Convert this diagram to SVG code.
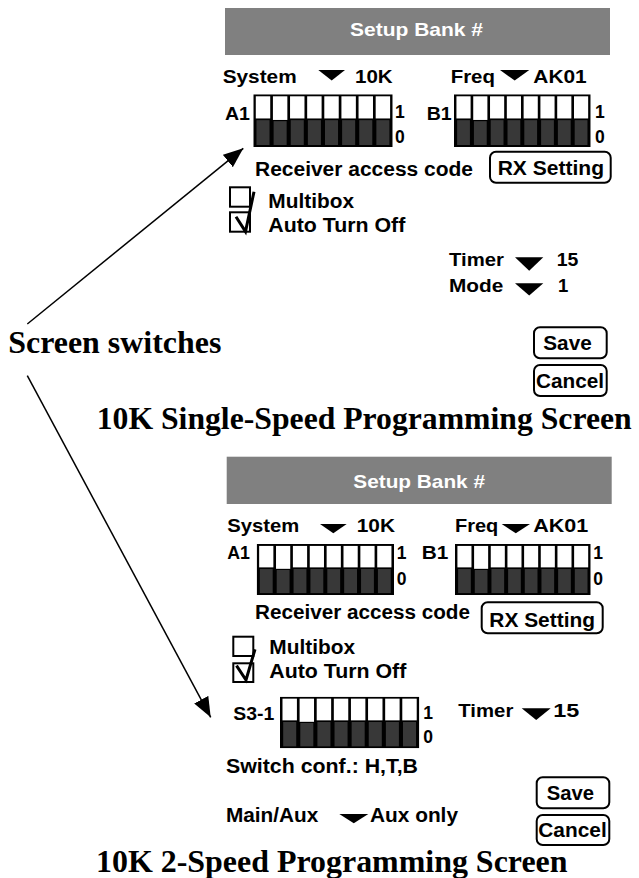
<svg xmlns="http://www.w3.org/2000/svg" xmlns:xlink="http://www.w3.org/1999/xlink" width="639" height="878" viewBox="0 0 639 878">
<style>
.s{font-family:"Liberation Sans",Arial,sans-serif;font-weight:bold;fill:#000}
.w{fill:#fff}
.t{font-family:"Liberation Serif","Times New Roman",serif;font-weight:bold;font-size:31px;fill:#000}
.hdr{fill:#808080}
.btn{fill:#fff;stroke:#000;stroke-width:2}
.cb{fill:#fff;stroke:#000;stroke-width:2}
.chk{fill:none;stroke:#000;stroke-width:3;stroke-linejoin:miter}
.tri{fill:#000}
.conn{fill:none;stroke:#000;stroke-width:1.5;marker-end:url(#ah)}
.f17{font-size:17.5px}.f18{font-size:18.5px}.f19{font-size:19.5px}.f20{font-size:20px}
</style>
<defs>
<marker id="ah" markerUnits="userSpaceOnUse" markerWidth="22" markerHeight="18" refX="20" refY="8" orient="auto"><path d="M0,0 L20,8 L0,16 z" fill="#000"/></marker>
<symbol id="dip" viewBox="0 0 140 53" preserveAspectRatio="none">
<rect x="0" y="0" width="140" height="53" fill="#000"/>
<g fill="#fff">
<rect x="2.5" y="2" width="14.5" height="22.3"/>
<rect x="19.7" y="2" width="14.5" height="23.8"/>
<rect x="36.9" y="2" width="14.5" height="22.3"/>
<rect x="54.1" y="2" width="14.5" height="22.3"/>
<rect x="71.3" y="2" width="14.5" height="22.3"/>
<rect x="88.5" y="2" width="14.5" height="22.3"/>
<rect x="105.7" y="2" width="14.5" height="22.3"/>
<rect x="122.9" y="2" width="14.5" height="22.3"/>
</g>
<g fill="#383838">
<rect x="3.2" y="26" width="13.1" height="25"/>
<rect x="20.4" y="27" width="13.1" height="24"/>
<rect x="37.6" y="26" width="13.1" height="25"/>
<rect x="54.8" y="26" width="13.1" height="25"/>
<rect x="72" y="26" width="13.1" height="25"/>
<rect x="89.2" y="26" width="13.1" height="25"/>
<rect x="106.4" y="26" width="13.1" height="25"/>
<rect x="123.6" y="26" width="13.1" height="25"/>
</g>
</symbol>
</defs>
<rect width="639" height="878" fill="#fff"/>

<g id="screen1">
<g id="s1-header"><rect class="hdr" x="225" y="8" width="385" height="47"/><text class="s w f18" x="350" y="36" textLength="133" lengthAdjust="spacingAndGlyphs">Setup Bank #</text></g>
<g id="s1-system"><text class="s f17" x="222.7" y="83" textLength="74" lengthAdjust="spacingAndGlyphs">System</text><polygon class="tri" points="318.3,70 345,70 331.7,80.5"/><text class="s f17" x="355" y="83" textLength="37.7" lengthAdjust="spacingAndGlyphs">10K</text></g>
<g id="s1-freq"><text class="s f17" x="450.7" y="83" textLength="44.3" lengthAdjust="spacingAndGlyphs">Freq</text><polygon class="tri" points="500,70 529.3,70 514.7,80.5"/><text class="s f17" x="533.3" y="83" textLength="53.4" lengthAdjust="spacingAndGlyphs">AK01</text></g>
<g id="s1-a1"><text class="s f17" x="225" y="119.5" textLength="25" lengthAdjust="spacingAndGlyphs">A1</text><use xlink:href="#dip" href="#dip" x="253.3" y="94.3" width="139.4" height="52.7"/><text class="s f17" x="395" y="118">1</text><text class="s f17" x="395" y="142.7">0</text></g>
<g id="s1-b1"><text class="s f17" x="426.7" y="119.5" textLength="25" lengthAdjust="spacingAndGlyphs">B1</text><use xlink:href="#dip" href="#dip" x="454" y="94.3" width="136.7" height="52.7"/><text class="s f17" x="595" y="118">1</text><text class="s f17" x="595" y="142.7">0</text></g>
<g id="s1-receiver"><text class="s f20" x="255" y="176" textLength="218" lengthAdjust="spacingAndGlyphs">Receiver access code</text></g>
<g id="s1-rx"><rect class="btn" x="490" y="151.7" width="120.7" height="31" rx="6"/><text class="s f19" x="497.7" y="175.3" textLength="106.3" lengthAdjust="spacingAndGlyphs">RX Setting</text></g>
<g id="s1-multibox"><rect class="cb" x="230" y="187.3" width="20" height="19.4"/><text class="s f20" x="268.3" y="208.3" textLength="85.7" lengthAdjust="spacingAndGlyphs">Multibox</text></g>
<g id="s1-autooff"><rect class="cb" x="230" y="212.3" width="20" height="19.4"/><polyline class="chk" points="236,216.7 245.5,231.5 254,191.7"/><text class="s f20" x="268.3" y="231.7" textLength="137" lengthAdjust="spacingAndGlyphs">Auto Turn Off</text></g>
<g id="s1-timer"><text class="s f18" x="449" y="266" textLength="55" lengthAdjust="spacingAndGlyphs">Timer</text><polygon class="tri" points="515,257.3 543.3,257.3 529.2,270.7"/><text class="s f18" x="556.7" y="266" textLength="21.6" lengthAdjust="spacingAndGlyphs">15</text></g>
<g id="s1-mode"><text class="s f18" x="449" y="291.7" textLength="54.3" lengthAdjust="spacingAndGlyphs">Mode</text><polygon class="tri" points="515,283.3 543.3,283.3 529.2,295.5"/><text class="s f18" x="558" y="291.7">1</text></g>
<g id="s1-save"><rect class="btn" x="534" y="327.3" width="72.7" height="31" rx="6"/><text class="s f19" x="543.3" y="350" textLength="48.4" lengthAdjust="spacingAndGlyphs">Save</text></g>
<g id="s1-cancel"><rect class="btn" x="534" y="365" width="72.7" height="31" rx="6"/><text class="s f19" x="536" y="387.7" textLength="68" lengthAdjust="spacingAndGlyphs">Cancel</text></g>
<g id="s1-title"><text class="t" x="96.7" y="429" textLength="535" lengthAdjust="spacingAndGlyphs">10K Single-Speed Programming Screen</text></g>
</g>

<g id="screen-switches"><text class="t" x="8.3" y="352.7" textLength="213" lengthAdjust="spacingAndGlyphs">Screen switches</text></g>

<g id="screen2">
<g id="s2-header"><rect class="hdr" x="226.7" y="456.7" width="385" height="47.3"/><text class="s w f18" x="353.3" y="488.3" textLength="131.7" lengthAdjust="spacingAndGlyphs">Setup Bank #</text></g>
<g id="s2-system"><text class="s f17" x="227.3" y="531.7" textLength="72" lengthAdjust="spacingAndGlyphs">System</text><polygon class="tri" points="320,524 346.7,524 333.3,533.3"/><text class="s f17" x="356.7" y="531.7" textLength="38.3" lengthAdjust="spacingAndGlyphs">10K</text></g>
<g id="s2-freq"><text class="s f17" x="455" y="531.7" textLength="43.3" lengthAdjust="spacingAndGlyphs">Freq</text><polygon class="tri" points="501.7,524 530,524 515.8,533.3"/><text class="s f17" x="533.3" y="531.7" textLength="55" lengthAdjust="spacingAndGlyphs">AK01</text></g>
<g id="s2-a1"><text class="s f17" x="227.3" y="559.3" textLength="22.7" lengthAdjust="spacingAndGlyphs">A1</text><use xlink:href="#dip" href="#dip" x="256.7" y="544" width="137.3" height="51"/><text class="s f17" x="396.7" y="559.3">1</text><text class="s f17" x="396.7" y="585">0</text></g>
<g id="s2-b1"><text class="s f17" x="421.7" y="559.3" textLength="26.6" lengthAdjust="spacingAndGlyphs">B1</text><use xlink:href="#dip" href="#dip" x="455" y="544" width="135.7" height="51"/><text class="s f17" x="593.3" y="559.3">1</text><text class="s f17" x="593.3" y="585">0</text></g>
<g id="s2-receiver"><text class="s f20" x="255" y="619.3" textLength="215" lengthAdjust="spacingAndGlyphs">Receiver access code</text></g>
<g id="s2-rx"><rect class="btn" x="481.7" y="602.3" width="121" height="31" rx="6"/><text class="s f19" x="489.3" y="626.7" textLength="105.7" lengthAdjust="spacingAndGlyphs">RX Setting</text></g>
<g id="s2-multibox"><rect class="cb" x="233.3" y="636.7" width="20" height="19.3"/><text class="s f20" x="269.3" y="654.3" textLength="85.7" lengthAdjust="spacingAndGlyphs">Multibox</text></g>
<g id="s2-autooff"><rect class="cb" x="233.3" y="663.3" width="20" height="18.7"/><polyline class="chk" points="236.5,665.7 246,680 255,649.3"/><text class="s f20" x="269.3" y="678.3" textLength="137" lengthAdjust="spacingAndGlyphs">Auto Turn Off</text></g>
<g id="s2-s31"><text class="s f17" x="233.3" y="720" textLength="41" lengthAdjust="spacingAndGlyphs">S3-1</text><use xlink:href="#dip" href="#dip" x="280" y="696.7" width="139.3" height="51.6"/><text class="s f17" x="423.3" y="719.3">1</text><text class="s f17" x="423.3" y="743.3">0</text></g>
<g id="s2-timer"><text class="s f18" x="458.3" y="716.7" textLength="55" lengthAdjust="spacingAndGlyphs">Timer</text><polygon class="tri" points="521.7,708.3 550.7,708.3 536.2,720"/><text class="s f18" x="553.3" y="716.7" textLength="26" lengthAdjust="spacingAndGlyphs">15</text></g>
<g id="s2-switchconf"><text class="s f20" x="226" y="773.3" textLength="192" lengthAdjust="spacingAndGlyphs">Switch conf.: H,T,B</text></g>
<g id="s2-mainaux"><text class="s f20" x="226" y="821.7" textLength="92.3" lengthAdjust="spacingAndGlyphs">Main/Aux</text><polygon class="tri" points="339.3,814 368.3,814 353.8,823.3"/><text class="s f20" x="370" y="821.7" textLength="88" lengthAdjust="spacingAndGlyphs">Aux only</text></g>
<g id="s2-save"><rect class="btn" x="536.7" y="777.3" width="72.6" height="31" rx="6"/><text class="s f19" x="546.7" y="800" textLength="47.3" lengthAdjust="spacingAndGlyphs">Save</text></g>
<g id="s2-cancel"><rect class="btn" x="536.7" y="815" width="72.6" height="30" rx="6"/><text class="s f19" x="538.3" y="836.7" textLength="68.4" lengthAdjust="spacingAndGlyphs">Cancel</text></g>
<g id="s2-title"><text class="t" x="96" y="872" textLength="471.5" lengthAdjust="spacingAndGlyphs">10K 2-Speed Programming Screen</text></g>
</g>

<g id="connectors">
<line class="conn" x1="27.3" y1="324" x2="243.3" y2="148.3"/>
<line class="conn" x1="27.3" y1="375.7" x2="210.7" y2="717.3"/>
</g>
</svg>
